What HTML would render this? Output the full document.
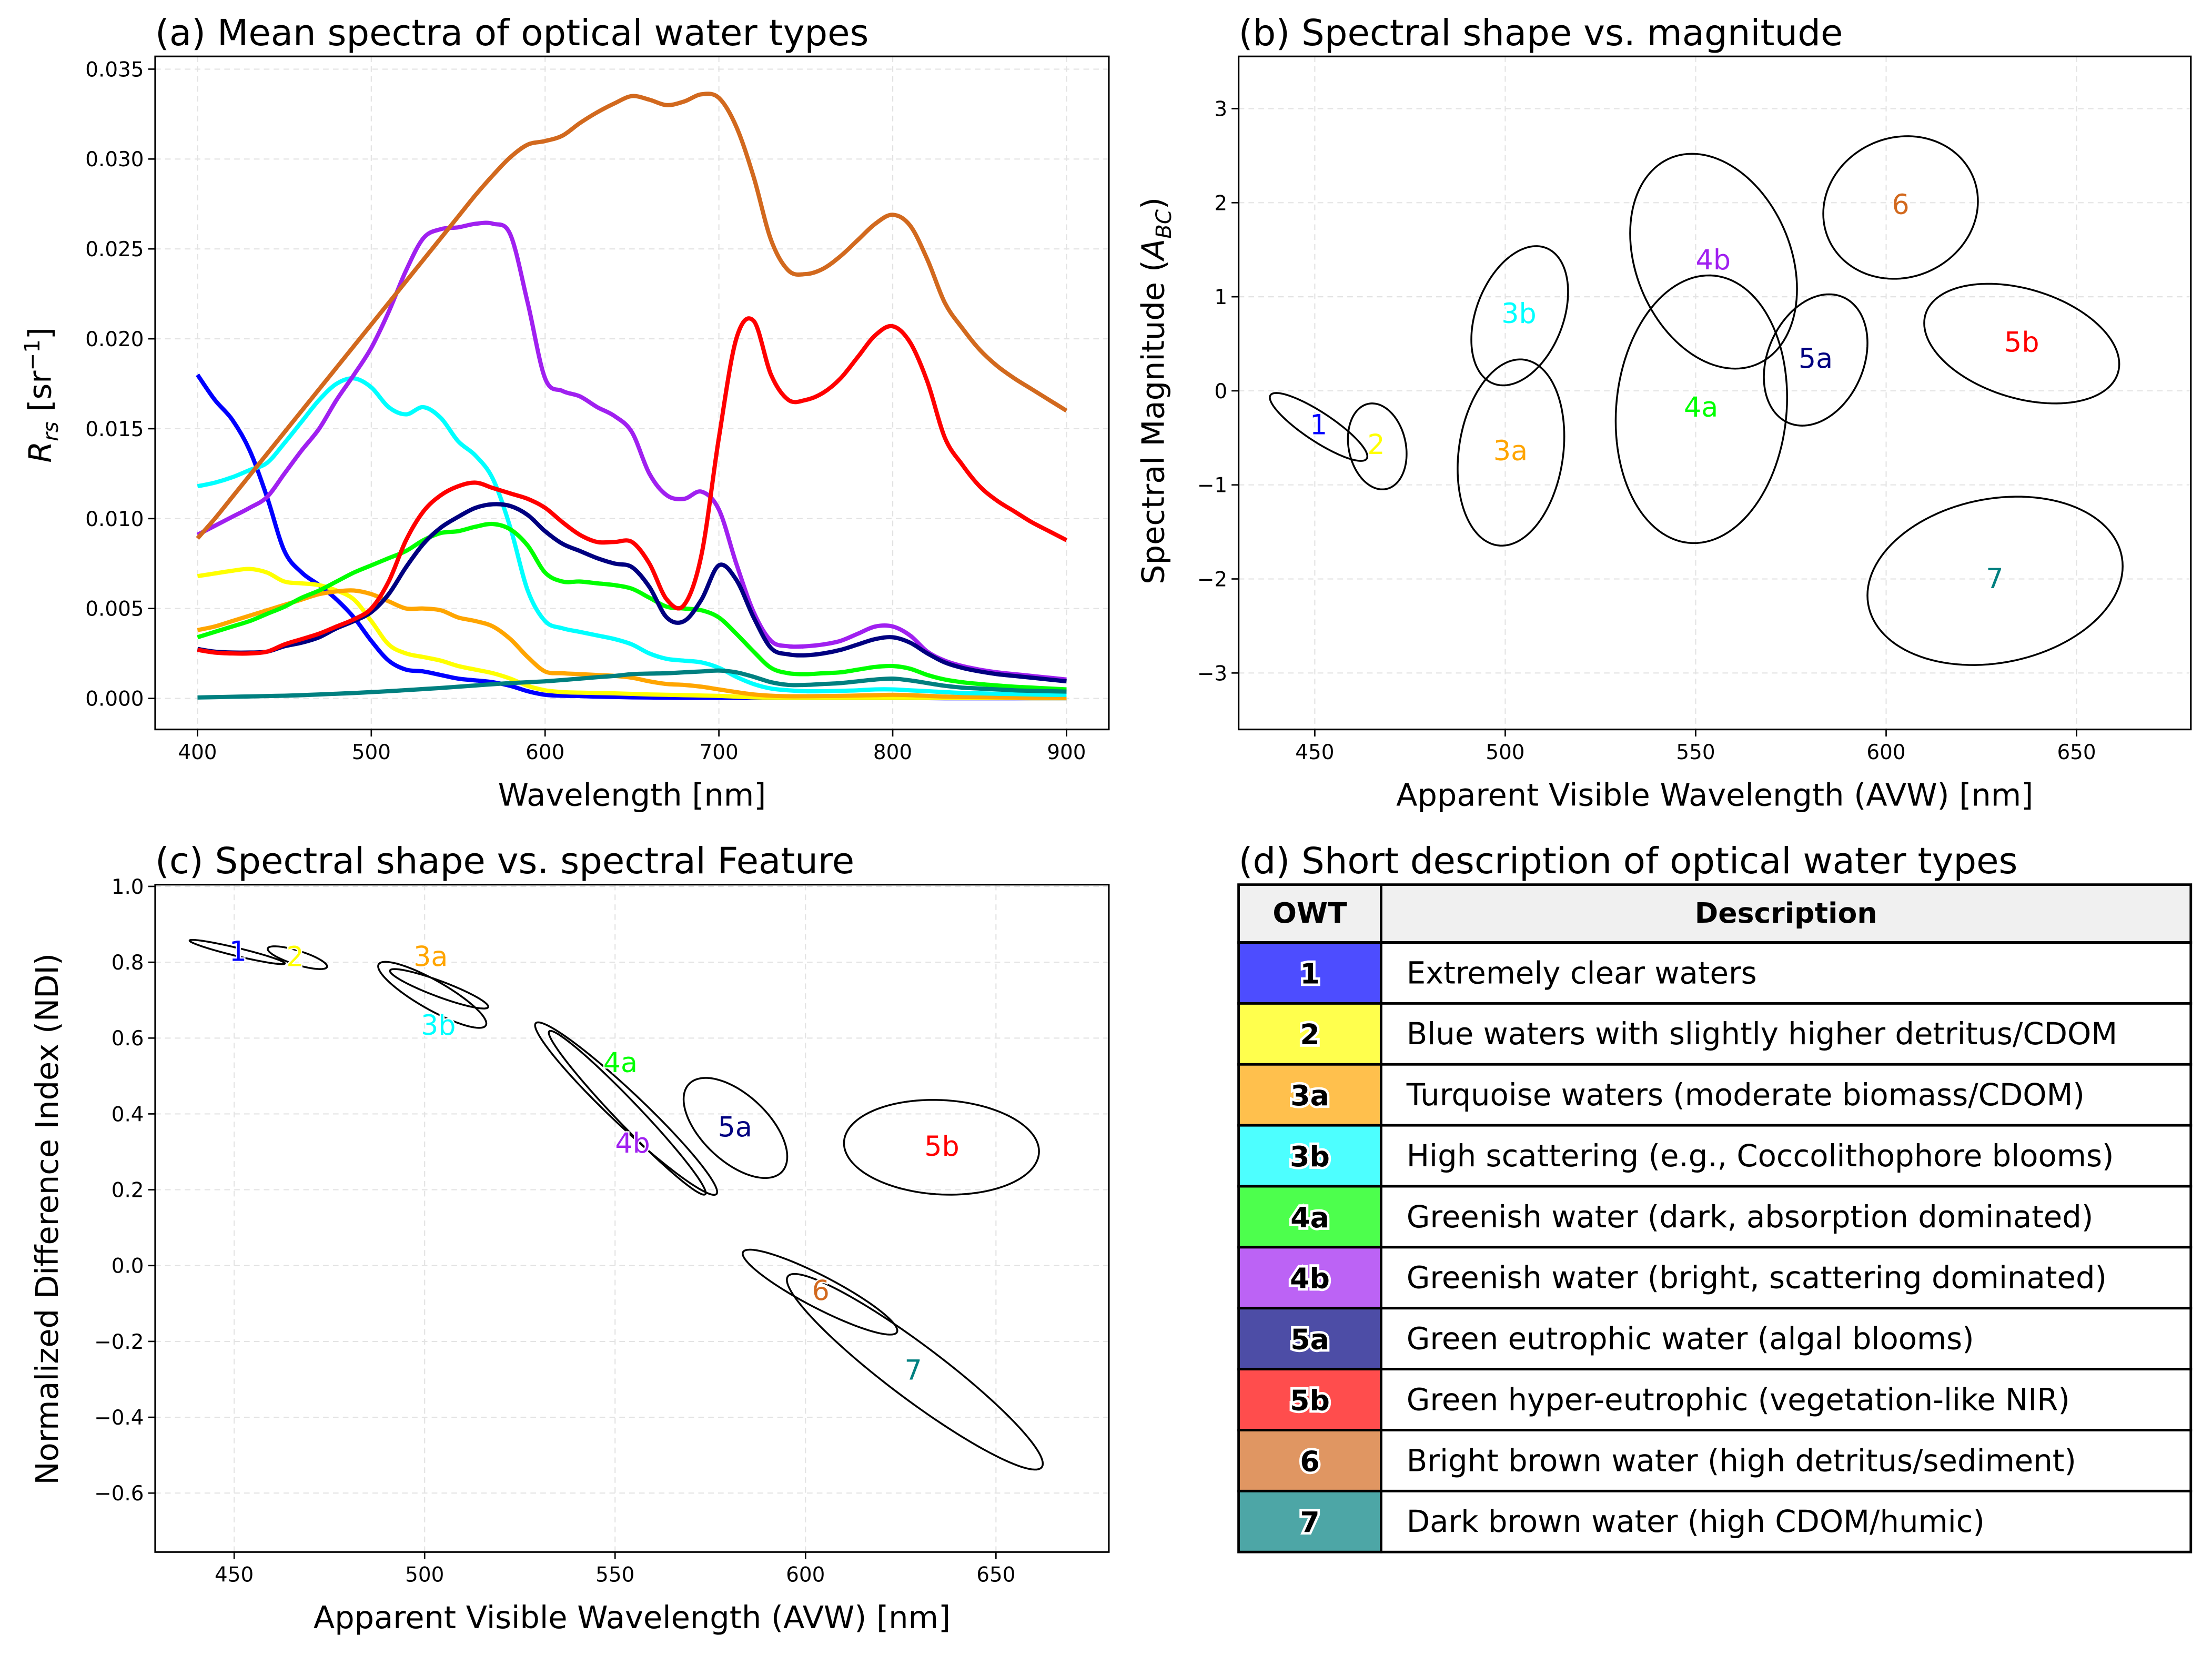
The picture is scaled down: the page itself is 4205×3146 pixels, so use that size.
<!DOCTYPE html>
<html><head><meta charset="utf-8">
<style>
html,body{margin:0;padding:0;background:#fff;}
svg{display:block;font-family:"DejaVu Sans","Liberation Sans",sans-serif;}
</style></head>
<body>
<svg id="fig" width="4205" height="3146" viewBox="0 0 1568 1173" preserveAspectRatio="none" xmlns="http://www.w3.org/2000/svg">
<rect x="0" y="0" width="1568" height="1173" fill="#fff"/>
<g id="gA"></g>
<g id="gB"></g>
<g id="gC"></g>
<g id="gD"></g>
</svg>
<script>
// ===== Panel (a) data (Rrs ×1e-3) =====
const wavelengths = [400,410,420,430,440,450,460,470,480,490,500,510,520,530,540,550,560,570,580,590,600,610,620,630,640,650,660,670,680,690,700,710,720,730,740,750,760,770,780,790,800,810,820,830,840,850,860,870,880,890,900];
const owt1 = [18.0,16.6,15.5,13.8,11.2,8.2,7.0,6.3,5.5,4.5,3.2,2.1,1.6,1.5,1.3,1.1,1.0,0.9,0.7,0.4,0.2,0.15,0.13,0.1,0.08,0.06,0.05,0.04,0.03,0.03,0.03,0.02,0.02,0.02,0.02,0.02,0.02,0.02,0.02,0.02,0.02,0.02,0.02,0.01,0.01,0.01,0.01,0.01,0.01,0.01,0.01];
const owt2 = [6.8,6.95,7.1,7.2,7.0,6.5,6.4,6.3,6.0,5.5,4.3,3.0,2.5,2.3,2.1,1.8,1.6,1.4,1.1,0.7,0.45,0.35,0.32,0.3,0.28,0.25,0.22,0.2,0.18,0.16,0.14,0.1,0.06,0.04,0.03,0.03,0.03,0.03,0.03,0.03,0.03,0.03,0.03,0.02,0.02,0.02,0.02,0.02,0.01,0.01,0.01];
const owt3a = [3.8,4.0,4.3,4.6,4.9,5.2,5.5,5.8,5.95,6.0,5.8,5.4,5.0,5.0,4.9,4.5,4.3,4.0,3.3,2.3,1.5,1.4,1.35,1.3,1.25,1.15,0.95,0.8,0.75,0.65,0.5,0.35,0.22,0.15,0.12,0.12,0.13,0.14,0.16,0.18,0.2,0.18,0.14,0.1,0.08,0.07,0.06,0.05,0.04,0.04,0.03];
const owt3b = [11.8,12.0,12.3,12.7,13.1,14.2,15.4,16.6,17.5,17.8,17.3,16.2,15.8,16.2,15.6,14.3,13.5,12.2,9.5,6.0,4.3,3.9,3.7,3.5,3.3,3.0,2.5,2.2,2.1,2.0,1.7,1.2,0.8,0.55,0.45,0.4,0.4,0.42,0.45,0.5,0.5,0.45,0.4,0.35,0.3,0.28,0.26,0.24,0.22,0.2,0.2];
const owt4a = [3.4,3.7,4.0,4.3,4.7,5.1,5.6,6.0,6.5,7.0,7.4,7.8,8.2,8.8,9.2,9.3,9.55,9.7,9.4,8.5,7.0,6.5,6.5,6.4,6.3,6.1,5.6,5.1,5.0,4.9,4.5,3.6,2.6,1.7,1.4,1.35,1.4,1.45,1.6,1.75,1.8,1.65,1.3,1.05,0.9,0.8,0.72,0.65,0.6,0.55,0.5];
const owt4b = [9.1,9.6,10.1,10.6,11.2,12.5,13.8,15.0,16.6,18.0,19.5,21.5,23.8,25.6,26.1,26.2,26.4,26.4,25.8,22.0,17.8,17.1,16.8,16.2,15.7,14.8,12.5,11.3,11.1,11.5,10.5,7.5,4.8,3.2,2.9,2.9,3.0,3.2,3.6,4.0,4.0,3.5,2.6,2.1,1.8,1.6,1.45,1.35,1.25,1.15,1.05];
const owt5a = [2.75,2.6,2.55,2.55,2.6,2.9,3.1,3.4,3.9,4.3,4.8,5.8,7.3,8.6,9.5,10.1,10.6,10.8,10.7,10.2,9.3,8.6,8.2,7.8,7.5,7.3,6.2,4.5,4.3,5.5,7.4,6.6,4.5,2.8,2.45,2.4,2.5,2.7,3.0,3.3,3.4,3.1,2.5,2.0,1.7,1.5,1.35,1.25,1.15,1.05,0.95];
const owt5b = [2.7,2.55,2.5,2.5,2.6,3.0,3.3,3.6,4.0,4.4,5.0,6.5,8.8,10.4,11.3,11.8,12.0,11.7,11.4,11.1,10.6,9.8,9.1,8.7,8.7,8.7,7.5,5.5,5.2,8.0,14.5,20.0,21.0,18.0,16.6,16.6,17.0,17.8,19.0,20.2,20.7,19.8,17.6,14.5,13.0,11.8,11.0,10.4,9.8,9.3,8.8];
const owt6 = [8.9,10.0,11.2,12.4,13.6,14.8,16.0,17.2,18.4,19.6,20.8,22.0,23.2,24.4,25.6,26.8,28.0,29.1,30.1,30.8,31.0,31.3,32.0,32.6,33.1,33.5,33.3,33.0,33.2,33.6,33.4,31.8,29.0,25.5,23.8,23.6,23.9,24.6,25.5,26.4,26.9,26.3,24.4,22.0,20.6,19.4,18.5,17.8,17.2,16.6,16.0];
const owt7 = [0.05,0.07,0.09,0.11,0.13,0.15,0.18,0.22,0.26,0.3,0.35,0.4,0.46,0.52,0.58,0.65,0.72,0.79,0.85,0.9,0.95,1.02,1.1,1.18,1.25,1.35,1.38,1.4,1.45,1.5,1.55,1.45,1.2,0.9,0.75,0.75,0.8,0.85,0.95,1.05,1.1,1.0,0.85,0.7,0.6,0.55,0.5,0.45,0.42,0.4,0.38];
const aTicksX = [400,500,600,700,800,900];
const aTicksY = [0,0.005,0.010,0.015,0.020,0.025,0.030,0.035];
const aTickLabelsY = ["0.000","0.005","0.010","0.015","0.020","0.025","0.030","0.035"];

// ===== Panel (b)/(c) ellipse data =====
const owtNames = ["1","2","3a","3b","4a","4b","5a","5b","6","7"];
const owtColors = ["#0000ff","#ffff00","#ffa500","#00ffff","#00ff00","#a020f0","#000080","#ff0000","#d2691e","#008080"];
const bCx = [451,466.4,501.5,503.8,551.5,554.7,581.5,635.6,603.8,628.6];
const bCy = [-0.384,-0.591,-0.656,0.798,-0.196,1.378,0.328,0.502,1.949,-2.02];
const bAx = [12.8,7.7,14,12.7,22.5,21.9,13.6,25.6,20.3,33.5];
const bBy = [0.361,0.457,0.99,0.74,1.423,1.142,0.698,0.636,0.758,0.895];
const bPhase = [150,100,80,70,85,105,75,110,85,80];
const bLabX = [451,466.1,501.4,503.6,551.4,554.6,581.5,635.6,603.8,628.5];
const bLabY = [-0.357,-0.567,-0.633,0.825,-0.17,1.396,0.348,0.522,1.985,-1.994];
const bTicksX = [450,500,550,600,650];
const bTicksY = [-3,-2,-1,0,1,2,3];
const cCx = [450.8,466.6,503.8,502,552.9,553.2,581.6,635.7,603.8,628.7];
const cCy = [0.827,0.812,0.73,0.714,0.414,0.403,0.363,0.312,-0.07,-0.28];
const cAx = [12.5,7.8,12.9,14.2,23.9,20.6,13.6,25.6,20.3,33.6];
const cBy = [0.032,0.03,0.052,0.087,0.2275,0.216,0.132,0.125,0.112,0.258];
const cPhase = [160,140,155,150,165,168,125,95,155,160];
const cLabX = [451,466,501.6,503.6,551.4,554.6,581.5,635.8,604,628.3];
const cLabY = [0.83,0.816,0.816,0.635,0.536,0.324,0.366,0.316,-0.065,-0.275];
const cTicksX = [450,500,550,600,650];
const cTicksY = [1.0,0.8,0.6,0.4,0.2,0.0,-0.2,-0.4,-0.6];
const cTickLabelsY = ["1.0","0.8","0.6","0.4","0.2","0.0","\u22120.2","\u22120.4","\u22120.6"];

// ===== Panel (d) table data =====
const descriptions = ["Extremely clear waters","Blue waters with slightly higher detritus/CDOM","Turquoise waters (moderate biomass/CDOM)","High scattering (e.g., Coccolithophore blooms)","Greenish water (dark, absorption dominated)","Greenish water (bright, scattering dominated)","Green eutrophic water (algal blooms)","Green hyper-eutrophic (vegetation-like NIR)","Bright brown water (high detritus/sediment)","Dark brown water (high CDOM/humic)"];
const cellColors = ["#4d4dff","#ffff4d","#ffc04d","#4dffff","#4dff4d","#bc63f5","#4d4da6","#ff4d4d","#e09662","#4da6a6"];

const TICK=14.5, LABEL=22, TITLE=25.7, TABLE=21.5;
const NS = "http://www.w3.org/2000/svg";
function mk(parent, tag, attrs, text){
  const e = document.createElementNS(NS, tag);
  for (const k in attrs) e.setAttribute(k, attrs[k]);
  if (text !== undefined) e.textContent = text;
  parent.appendChild(e);
  return e;
}
function lin(d0,d1,p0,p1){ return v => p0 + (v-d0)/(d1-d0)*(p1-p0); }
function smoothPath(pts){
  let d = "M"+pts[0][0].toFixed(2)+","+pts[0][1].toFixed(2);
  for (let i=0;i<pts.length-1;i++){
    const p0=pts[Math.max(0,i-1)], p1=pts[i], p2=pts[i+1], p3=pts[Math.min(pts.length-1,i+2)];
    const c1=[p1[0]+(p2[0]-p0[0])/6, p1[1]+(p2[1]-p0[1])/6];
    const c2=[p2[0]-(p3[0]-p1[0])/6, p2[1]-(p3[1]-p1[1])/6];
    d += "C"+c1[0].toFixed(2)+","+c1[1].toFixed(2)+" "+c2[0].toFixed(2)+","+c2[1].toFixed(2)+" "+p2[0].toFixed(2)+","+p2[1].toFixed(2);
  }
  return d;
}

function axes(g, box, sx, sy, xt, xtl, yt, ytl, xlabel, title){
  const [L,T,R,B] = box;
  xt.forEach((v)=>{
    const gl = mk(g,"line",{x1:sx(v),x2:sx(v),y1:T,y2:B,stroke:"#e3e3e3","stroke-width":0.8,"stroke-dasharray":"4,3"});
    
    
  });
  yt.forEach((v)=>{
    const gl = mk(g,"line",{x1:L,x2:R,y1:sy(v),y2:sy(v),stroke:"#e3e3e3","stroke-width":0.8,"stroke-dasharray":"4,3"});
    
    
  });
  xt.forEach((v,i)=>{
    mk(g,"line",{x1:sx(v),x2:sx(v),y1:B,y2:B+5,stroke:"#000","stroke-width":1});
    const t = mk(g,"text",{x:sx(v),y:B+21,"font-size":TICK,"text-anchor":"middle",fill:"#000"}, xtl[i]);
    
    
  });
  yt.forEach((v,i)=>{
    mk(g,"line",{x1:L-5,x2:L,y1:sy(v),y2:sy(v),stroke:"#000","stroke-width":1});
    const t = mk(g,"text",{x:L-8,y:sy(v)+5.2,"font-size":TICK,"text-anchor":"end",fill:"#000"}, ytl[i]);
    
    
  });
  const xl = mk(g,"text",{x:(L+R)/2,y:B+54,"font-size":LABEL,"text-anchor":"middle",fill:"#000"}, xlabel);
  
  
  const tt = mk(g,"text",{x:L,y:T-8,"font-size":TITLE,fill:"#000"}, title);
  
  
}
function frame(g, box){
  const [L,T,R,B] = box;
  const f = mk(g,"rect",{x:L,y:T,width:R-L,height:B-T,fill:"none",stroke:"#000","stroke-width":1.2});
  
  
}

// ---- Panel A ----
(function(){
  const g = document.getElementById("gA");
  const box=[110,40,786,517];
  const sx = lin(400,900,140,756), sy = lin(0,0.035,495,49);
  axes(g, box, sx, sy, aTicksX, aTicksX.map(String), aTicksY, aTickLabelsY, "Wavelength [nm]", "(a) Mean spectra of optical water types");
  const yl = mk(g,"text",{x:0,y:0,"font-size":LABEL,"text-anchor":"middle",transform:"translate(36,280) rotate(-90)",fill:"#000"});
  
  
  mk(yl,"tspan",{"font-style":"italic"},"R");
  mk(yl,"tspan",{"font-style":"italic","font-size":15,dy:5},"rs");
  mk(yl,"tspan",{dy:-5}," [sr");
  mk(yl,"tspan",{"font-size":15,dy:-8},"\u22121");
  mk(yl,"tspan",{dy:8},"]");
  const series = [owt1,owt2,owt3a,owt3b,owt4a,owt4b,owt5a,owt5b,owt6,owt7];
  const cp = document.createElementNS(NS,"clipPath"); cp.setAttribute("id","clipA");
  mk(cp,"rect",{x:110,y:40,width:676,height:477}); g.appendChild(cp);
  series.forEach((s,k)=>{
    const pts = wavelengths.map((w,i)=>[sx(w), sy(s[i]/1000)]);
    const p = mk(g,"path",{d:smoothPath(pts),fill:"none",stroke:owtColors[k],"stroke-width":3,"stroke-linejoin":"round","clip-path":"url(#clipA)"});
    
    
  });
  frame(g, box);
})();

function ellipsePanel(gid, box, sx, sy, cx, cy, ax, by, ph, lx, ly, xt, yt, ytl, xlabel, title, ylabelParts, ylx, yly){
  const g = document.getElementById(gid);
  axes(g, box, sx, sy, xt, xt.map(String), yt, ytl, xlabel, title);
  const yl = mk(g,"text",{x:0,y:0,"font-size":LABEL,"text-anchor":"middle",transform:"translate("+ylx+","+yly+") rotate(-90)",fill:"#000"});
  
  
  ylabelParts.forEach(p=>mk(yl,"tspan",p.a,p.t));
  for (let k=0;k<cx.length;k++){
    const pts=[]; const phi = ph[k]*Math.PI/180;
    for (let i=0;i<=120;i++){
      const t = i/120*2*Math.PI;
      pts.push((i?"L":"M")+sx(cx[k]+ax[k]*Math.cos(t)).toFixed(2)+","+sy(cy[k]+by[k]*Math.cos(t-phi)).toFixed(2));
    }
    const e = mk(g,"path",{d:pts.join("")+"Z",fill:"none",stroke:"#000","stroke-width":1.3});
    
    
  }
  for (let k=0;k<cx.length;k++){
    const t = mk(g,"text",{x:sx(lx[k]),y:sy(ly[k])+7,"font-size":19.5,"text-anchor":"middle",fill:owtColors[k],stroke:"#fff","stroke-width":1.8,"paint-order":"stroke"}, owtNames[k]);
    
    
  }
  frame(g, box);
}
ellipsePanel("gB",[878,40,1553,517], lin(450,650,932,1472), lin(0,3,277,77),
  bCx,bCy,bAx,bBy,bPhase,bLabX,bLabY,bTicksX,bTicksY,bTicksY.map(v=>v<0?"\u2212"+(-v):String(v)),
  "Apparent Visible Wavelength (AVW) [nm]","(b) Spectral shape vs. magnitude",
  [{a:{},t:"Spectral Magnitude ("},{a:{"font-style":"italic"},t:"A"},{a:{"font-style":"italic","font-size":15,dy:5},t:"BC"},{a:{dy:-5},t:")"}],825,277);
ellipsePanel("gC",[110,627,786,1100], lin(450,650,166,706), lin(0,1,897,628.25),
  cCx,cCy,cAx,cBy,cPhase,cLabX,cLabY,cTicksX,cTicksY,cTickLabelsY,
  "Apparent Visible Wavelength (AVW) [nm]","(c) Spectral shape vs. spectral Feature",
  [{a:{},t:"Normalized Difference Index (NDI)"}],41,864);

// ---- Panel D ----
(function(){
  const g = document.getElementById("gD");
  const L=878,R=1553,C=979,T=627,H0=41,rh=43.2;
  const tt = mk(g,"text",{x:L,y:T-8,"font-size":TITLE,fill:"#000"},"(d) Short description of optical water types");
  
  
  mk(g,"rect",{x:L,y:T,width:R-L,height:H0,fill:"#f0f0f0",stroke:"#000","stroke-width":1.8});
  mk(g,"line",{x1:C,x2:C,y1:T,y2:T+H0,stroke:"#000","stroke-width":1.8});
  const h1 = mk(g,"text",{x:(L+C)/2,y:T+27,"font-size":20,"font-weight":"bold","text-anchor":"middle"},"OWT");
  
  
  const h2 = mk(g,"text",{x:(C+R)/2,y:T+27,"font-size":20,"font-weight":"bold","text-anchor":"middle"},"Description");
  
  
  descriptions.forEach((d,i)=>{
    const y = T+H0+i*rh;
    const c = mk(g,"rect",{x:L,y:y,width:C-L,height:rh,fill:cellColors[i],stroke:"#000","stroke-width":1.8});
    
    
    mk(g,"rect",{x:C,y:y,width:R-C,height:rh,fill:"#fff",stroke:"#000","stroke-width":1.8});
    const o = mk(g,"text",{x:(L+C)/2,y:y+29,"font-size":20,"font-weight":"bold","text-anchor":"middle",fill:"#000",stroke:"#fff","stroke-width":3.5,"paint-order":"stroke"},owtNames[i]);
    
    
    const t = mk(g,"text",{x:C+18,y:y+29,"font-size":TABLE,fill:"#000"},d);
    
    
  });
})();
</script>
</body></html>
